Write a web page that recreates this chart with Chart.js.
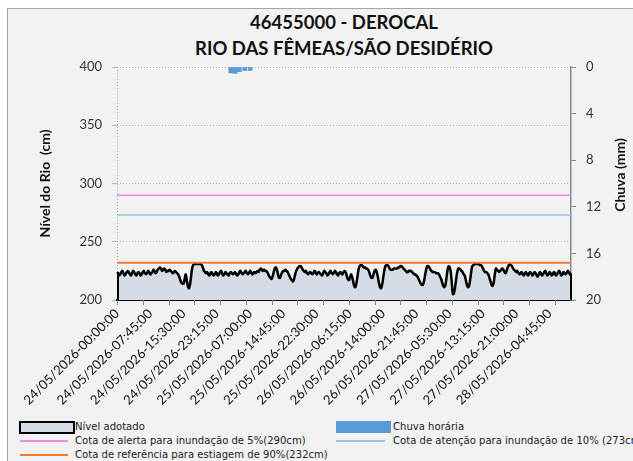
<!DOCTYPE html>
<html>
<head>
<meta charset="utf-8">
<script src="https://cdn.jsdelivr.net/npm/chart.js@4.4.1/dist/chart.umd.min.js"></script>
<style>
  body { margin: 0; width: 633px; height: 461px; overflow: hidden; position: relative; background: #fff; font-family: Lato, sans-serif; }
  #box { position: absolute; left: 7px; top: 8px; width: 640px; height: 470px; background: #f2f2f2; border: 1px solid #a6a6a6; }
  #wrap { position: absolute; left: 9px; top: 9px; width: 624px; height: 406px; }
  #title { position: absolute; left: 144px; top: 9px; width: 400px; text-align: center; font: bold 18.5px Lato, sans-serif; line-height: 26px; color: #111; }
  #y2title { position: absolute; left: 560px; top: 166px; width: 120px; height: 18px; line-height: 18px; text-align: center; font: bold 14px Lato, sans-serif; color: #111; transform: rotate(-90deg); }
  .leg { position: absolute; font: 11.2px "Liberation Sans Narrow", "DejaVu Sans Condensed", sans-serif; color: #222; white-space: nowrap; line-height: 14px; }
  .sw { position: absolute; }
</style>
</head>
<body>
<div id="box"></div>
<div id="title">46455000 - DEROCAL<br>RIO DAS FÊMEAS/SÃO DESIDÉRIO</div>
<div id="wrap"><canvas id="chart" width="624" height="406"></canvas></div>
<div id="y2title">Chuva (mm)</div>

<div class="sw" style="left:19px;top:421px;width:52px;height:9px;background:#d6dce5;border:2px solid #000;"></div>
<div class="leg" style="left:75px;top:420px;">Nível adotado</div>
<div class="sw" style="left:336px;top:421px;width:55px;height:12px;background:#5b9bd5;"></div>
<div class="leg" style="left:393px;top:420px;">Chuva horária</div>

<div class="sw" style="left:20px;top:440px;width:48px;height:2px;background:#ee88ee;"></div>
<div class="leg" style="left:75px;top:434px;">Cota de alerta para inundação de 5%(290cm)</div>
<div class="sw" style="left:336px;top:440px;width:49px;height:2px;background:#9dc3e6;"></div>
<div class="leg" style="left:393px;top:434px;">Cota de atenção para inundação de 10% (273cm)</div>

<div class="sw" style="left:20px;top:454px;width:48px;height:2px;background:#ed7d31;"></div>
<div class="leg" style="left:75px;top:448px;">Cota de referência para estiagem de 90%(232cm)</div>

<script>
// nível do rio (cm), leituras de 15 em 15 minutos a partir de 24/05/2026 00:00
const nivel = [
  224,223,221,222,224,225,223,221,222,224,225,224,222,221,223,225,224,222,221,223,224,223,221,222,
  224,225,223,222,223,225,224,222,223,224,226,225,223,224,226,227,228,227,225,226,227,226,224,225,
  225,226,225,224,223,224,225,224,223,222,220,217,215,214,214,218,222,217,212,210,213,220,227,230,
  231,231,231,231,231,231,231,230,228,225,224,223,224,222,221,223,224,222,221,222,224,223,221,222,
  224,225,223,221,222,224,223,222,221,223,224,223,222,223,224,222,221,222,224,225,223,222,223,224,
  225,223,222,223,225,224,222,223,224,223,224,225,224,226,227,226,225,226,225,225,224,222,220,219,
  218,220,224,227,228,226,222,219,219,222,224,225,225,226,225,224,222,220,218,217,216,218,222,225,
  227,228,229,229,228,226,225,224,225,223,222,223,224,223,222,223,225,224,222,223,224,223,222,221,
  223,225,224,223,221,222,224,225,223,222,223,225,224,222,221,223,224,223,222,224,225,224,221,218,
  217,219,222,220,216,212,211,214,220,226,229,230,230,229,228,228,227,227,226,224,221,219,219,222,
  225,226,224,220,215,211,210,213,219,225,229,230,230,229,227,226,226,226,227,227,227,227,228,228,
  229,229,228,227,226,225,224,224,225,225,225,224,223,222,222,221,220,218,216,214,213,213,216,221,
  226,229,229,228,226,225,224,224,224,223,223,223,222,220,218,215,212,211,213,219,226,229,228,224,
  214,205,206,211,218,224,227,227,226,225,224,222,221,217,213,211,212,217,224,229,230,231,231,231,
  231,231,230,230,229,227,225,224,224,223,222,219,216,213,212,215,222,227,226,225,224,225,226,227,
  226,224,223,225,228,230,231,230,229,227,226,225,224,225,223,222,223,224,222,221,223,224,222,221,
  223,224,223,221,222,224,223,221,220,222,224,223,221,222,224,225,223,221,222,224,223,221,222,224,
  223,221,222,224,225,223,221,222,224,223,222,223,225,224,222,223
];

// chuva horária (mm)
const chuvaHora = ['25/05/2026-02:30:00', '25/05/2026-03:30:00', '25/05/2026-04:30:00', '25/05/2026-05:45:00', '25/05/2026-07:00:00'];
const chuvaMm = [0.5, 0.55, 0.4, 0.3, 0.3];

// cotas de referência (cm)
const cotaAlerta = 290;
const cotaAtencao = 273;
const cotaEstiagem = 232;

const LABEL_EVERY = 31; // 7h45
const TICK_EVERY = 24;  // 6h

function pad(n) { return String(n).padStart(2, '0'); }

// rótulos do eixo x: 24/05/2026-00:00:00, de 15 em 15 min
const labels = [];
for (let i = 0; i < nivel.length; i++) {
  const min = i * 15;
  const day = 24 + Math.floor(min / 1440);
  const h = Math.floor((min % 1440) / 60);
  const m = min % 60;
  labels.push(pad(day) + '/05/2026-' + pad(h) + ':' + pad(m) + ':00');
}

function cota(v) {
  return [{ x: labels[0], y: v }, { x: labels[labels.length - 1], y: v }];
}

// marcas do eixo x, eixo esquerdo pontilhado e bordas laterais da área
const extras = {
  id: 'extras',
  afterDraw(chart) {
    const x = chart.scales.x, y = chart.scales.y, ctx = chart.ctx;
    const area = chart.chartArea;
    ctx.save();
    ctx.strokeStyle = '#868686';
    ctx.lineWidth = 1;
    for (let i = 0; i < labels.length; i += TICK_EVERY) {
      const px = Math.round(x.getPixelForValue(i)) + 0.5;
      ctx.beginPath();
      ctx.moveTo(px, x.top);
      ctx.lineTo(px, x.top + 5);
      ctx.stroke();
    }
    ctx.strokeStyle = '#a6a6a6';
    ctx.setLineDash([1, 2]);
    ctx.beginPath();
    ctx.moveTo(area.left + 0.5, area.top);
    ctx.lineTo(area.left + 0.5, y.getPixelForValue(nivel[0]));
    ctx.stroke();
    ctx.setLineDash([]);
    ctx.strokeStyle = '#000';
    ctx.lineWidth = 2;
    const last = labels.length - 1;
    ctx.beginPath();
    ctx.moveTo(x.getPixelForValue(0) + 1, y.getPixelForValue(200));
    ctx.lineTo(x.getPixelForValue(0) + 1, y.getPixelForValue(nivel[0]));
    ctx.moveTo(x.getPixelForValue(last), y.getPixelForValue(200));
    ctx.lineTo(x.getPixelForValue(last), y.getPixelForValue(nivel[last]));
    ctx.stroke();
    ctx.restore();
  }
};

new Chart(document.getElementById('chart'), {
  type: 'line',
  data: {
    labels: labels,
    datasets: [
      {
        type: 'bar',
        label: 'Chuva horária',
        data: chuvaHora.map((t, k) => ({ x: t, y: chuvaMm[k] })),
        yAxisID: 'y2',
        backgroundColor: '#5b9bd5',
        barThickness: 4,
        order: 0
      },
      {
        label: 'Nível adotado',
        data: nivel,
        yAxisID: 'y',
        borderColor: '#000',
        borderWidth: 2.5,
        backgroundColor: '#d6dce5',
        fill: 'start',
        pointRadius: 0,
        tension: 0.3,
        order: 3
      },
      {
        label: 'Cota de alerta para inundação de 5%(290cm)',
        data: cota(cotaAlerta),
        borderColor: '#ee88ee',
        borderWidth: 1.5,
        pointRadius: 0,
        fill: false,
        order: 1
      },
      {
        label: 'Cota de atenção para inundação de 10% (273cm)',
        data: cota(cotaAtencao),
        borderColor: '#9dc3e6',
        borderWidth: 1.5,
        pointRadius: 0,
        fill: false,
        order: 1
      },
      {
        label: 'Cota de referência para estiagem de 90%(232cm)',
        data: cota(cotaEstiagem),
        borderColor: '#ed7d31',
        borderWidth: 2,
        pointRadius: 0,
        fill: false,
        order: 2
      }
    ]
  },
  options: {
    responsive: false,
    animation: false,
    devicePixelRatio: 1,
    layout: { padding: { top: 58, left: 0, right: 0, bottom: 0 } },
    plugins: { legend: { display: false }, tooltip: { enabled: false } },
    scales: {
      x: {
        type: 'category',
        offset: false,
        grid: { display: true, drawOnChartArea: false, drawTicks: false, offset: false },
        border: { display: true, color: '#000', width: 2 },
        ticks: {
          autoSkip: false,
          maxRotation: 45,
          minRotation: 45,
          padding: 6,
          color: '#111',
          font: { family: 'Lato', size: 13 },
          callback: function (v, i) { return i % LABEL_EVERY === 0 ? labels[i] : null; }
        },
        afterFit: function (s) { s.height = 115; }
      },
      y: {
        position: 'left',
        min: 200,
        max: 400,
        ticks: { stepSize: 50, color: '#333', padding: 10, font: { family: 'Lato', size: 13 } },
        grid: { color: '#b8b8b8', tickLength: 5 },
        border: { display: false, dash: [1, 2] },
        title: {
          display: true,
          text: 'Nível do Rio  (cm)',
          color: '#111',
          font: { family: 'Lato', size: 14, weight: 'bold' },
          padding: { top: 27.6, bottom: 0 }
        },
        afterFit: function (s) { s.width = 108; }
      },
      y2: {
        position: 'right',
        reverse: true,
        min: 0,
        max: 20,
        ticks: { stepSize: 4, color: '#333', padding: 10, font: { family: 'Lato', size: 13 } },
        grid: { drawOnChartArea: false, color: '#868686', tickLength: 5 },
        border: { color: '#868686', width: 1.5 },
        afterFit: function (s) { s.width = 62; }
      }
    }
  },
  plugins: [extras]
});
</script>
</body>
</html>
